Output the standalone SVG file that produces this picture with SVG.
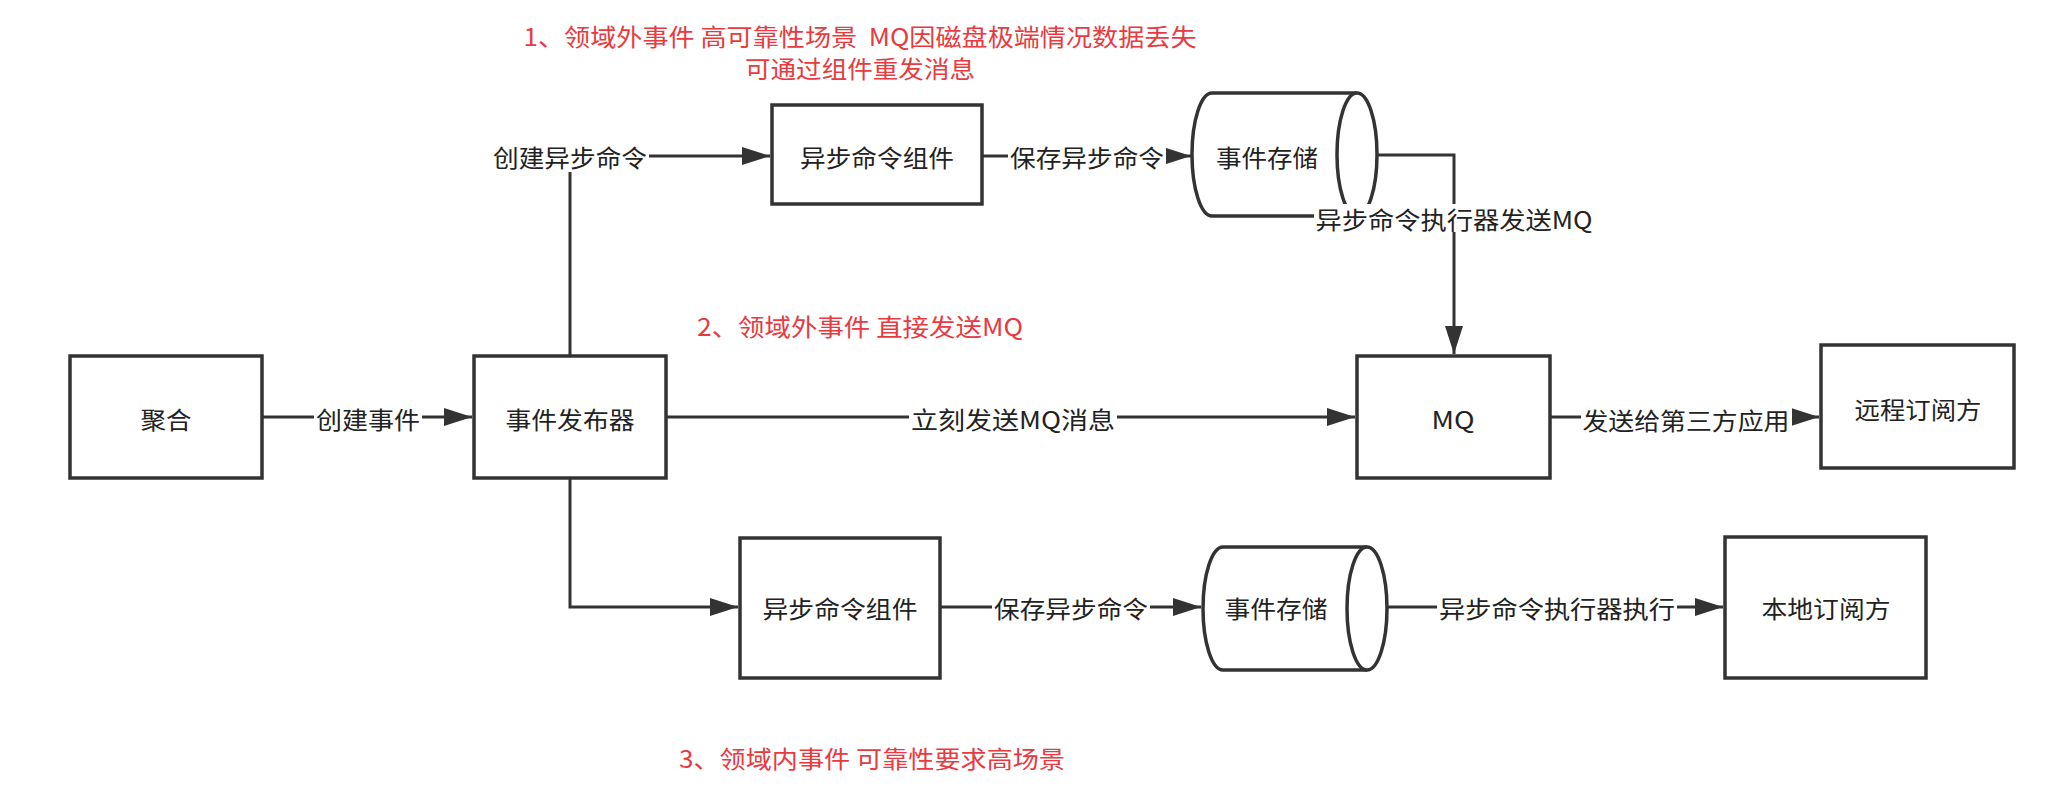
<svg xmlns="http://www.w3.org/2000/svg" width="2050" height="802" viewBox="0 0 2050 802">
  <style>
    .box { fill: #ffffff; stroke: #333333; stroke-width: 3.5; }
    .edge { fill: none; stroke: #333333; stroke-width: 3; }
    .lbl-bg { fill: #ffffff; }
    .txt { font-family: "Noto Sans CJK SC", "Liberation Sans", sans-serif; font-size: 24px; fill: #222222; text-anchor: middle; dominant-baseline: central; }
    .note { font-family: "Noto Sans CJK SC", "Liberation Sans", sans-serif; font-size: 24px; fill: #e83a3f; text-anchor: middle; dominant-baseline: central; }
  </style>
  <defs>
    <marker id="arrow" markerUnits="userSpaceOnUse" markerWidth="28" markerHeight="18" refX="28" refY="9" orient="auto">
      <path d="M0,0 L28,9 L0,18 Z" fill="#333333"/>
    </marker>
  </defs>

  <rect width="2050" height="802" fill="#ffffff"/>

  <!-- nodes -->
  <g id="aggregate">
    <rect class="box" x="70" y="356" width="192" height="122"/>
    <text class="txt" x="166" y="418" textLength="51" lengthAdjust="spacingAndGlyphs">聚合</text>
  </g>

  <g id="publisher">
    <rect class="box" x="474" y="356" width="192" height="122"/>
    <text class="txt" x="570" y="418" textLength="129" lengthAdjust="spacingAndGlyphs">事件发布器</text>
  </g>

  <g id="async-component-upper">
    <rect class="box" x="772" y="105" width="210" height="99"/>
    <text class="txt" x="877" y="156" textLength="154" lengthAdjust="spacingAndGlyphs">异步命令组件</text>
  </g>

  <g id="event-store-upper">
    <path class="box" d="M1212,93 H1357 A20,61.5 0 0 1 1357,216 H1212 A20,61.5 0 0 1 1212,93 Z"/>
    <path class="box" fill="none" d="M1357,93 A20,61.5 0 0 0 1357,216"/>
    <text class="txt" x="1267" y="156" textLength="102" lengthAdjust="spacingAndGlyphs">事件存储</text>
  </g>

  <g id="mq">
    <rect class="box" x="1357" y="356" width="193" height="122"/>
    <text class="txt" x="1453" y="418" textLength="43" lengthAdjust="spacingAndGlyphs">MQ</text>
  </g>

  <g id="remote-subscriber">
    <rect class="box" x="1821" y="345" width="193" height="123"/>
    <text class="txt" x="1918" y="408" textLength="127" lengthAdjust="spacingAndGlyphs">远程订阅方</text>
  </g>

  <g id="async-component-lower">
    <rect class="box" x="740" y="538" width="200" height="140"/>
    <text class="txt" x="840" y="607" textLength="155" lengthAdjust="spacingAndGlyphs">异步命令组件</text>
  </g>

  <g id="event-store-lower">
    <path class="box" d="M1223,547 H1367 A20,61.5 0 0 1 1367,670 H1223 A20,61.5 0 0 1 1223,547 Z"/>
    <path class="box" fill="none" d="M1367,547 A20,61.5 0 0 0 1367,670"/>
    <text class="txt" x="1276" y="607" textLength="103" lengthAdjust="spacingAndGlyphs">事件存储</text>
  </g>

  <g id="local-subscriber">
    <rect class="box" x="1725" y="537" width="201" height="141"/>
    <text class="txt" x="1826" y="607" textLength="129" lengthAdjust="spacingAndGlyphs">本地订阅方</text>
  </g>

  <!-- connectors, drawn above the nodes so their labels sit on top -->
  <g id="connectors">
    <!-- aggregate -> publisher -->
    <path class="edge" d="M262,417 H472" marker-end="url(#arrow)"/>
    <rect class="lbl-bg" x="314" y="404" width="108" height="28"/>
    <text class="txt" x="368" y="418" textLength="104" lengthAdjust="spacingAndGlyphs">创建事件</text>

    <!-- publisher -> upper async component -->
    <path class="edge" d="M570,356 V156 H770" marker-end="url(#arrow)"/>
    <rect class="lbl-bg" x="491" y="140" width="158" height="32"/>
    <text class="txt" x="570" y="156" textLength="154" lengthAdjust="spacingAndGlyphs">创建异步命令</text>

    <!-- upper async component -> upper store -->
    <path class="edge" d="M982,156 H1191" marker-end="url(#arrow)"/>
    <rect class="lbl-bg" x="1008" y="142" width="158" height="28"/>
    <text class="txt" x="1087" y="156" textLength="154" lengthAdjust="spacingAndGlyphs">保存异步命令</text>

    <!-- upper store -> MQ -->
    <path class="edge" d="M1377,155 H1454 V354" marker-end="url(#arrow)"/>
    <rect class="lbl-bg" x="1314" y="204" width="281" height="28"/>
    <text class="txt" x="1454" y="218" textLength="277" lengthAdjust="spacingAndGlyphs">异步命令执行器发送MQ</text>

    <!-- publisher -> MQ -->
    <path class="edge" d="M666,417 H1355" marker-end="url(#arrow)"/>
    <rect class="lbl-bg" x="909" y="404" width="208" height="28"/>
    <text class="txt" x="1013" y="418" textLength="204" lengthAdjust="spacingAndGlyphs">立刻发送MQ消息</text>

    <!-- MQ -> remote subscriber -->
    <path class="edge" d="M1550,417 H1819" marker-end="url(#arrow)"/>
    <rect class="lbl-bg" x="1581" y="405" width="211" height="28"/>
    <text class="txt" x="1686" y="419" textLength="207" lengthAdjust="spacingAndGlyphs">发送给第三方应用</text>

    <!-- publisher -> lower async component -->
    <path class="edge" d="M570,478 V607 H738" marker-end="url(#arrow)"/>

    <!-- lower async component -> lower store -->
    <path class="edge" d="M940,607 H1201" marker-end="url(#arrow)"/>
    <rect class="lbl-bg" x="992" y="593" width="158" height="28"/>
    <text class="txt" x="1071" y="607" textLength="154" lengthAdjust="spacingAndGlyphs">保存异步命令</text>

    <!-- lower store -> local subscriber -->
    <path class="edge" d="M1387,607 H1723" marker-end="url(#arrow)"/>
    <rect class="lbl-bg" x="1437" y="593" width="240" height="28"/>
    <text class="txt" x="1557" y="607" textLength="236" lengthAdjust="spacingAndGlyphs">异步命令执行器执行</text>
  </g>

  <!-- scenario notes -->
  <g id="notes">
    <text class="note" x="860" y="35" xml:space="preserve" textLength="673" lengthAdjust="spacingAndGlyphs">1、领域外事件 高可靠性场景  MQ因磁盘极端情况数据丢失</text>
    <text class="note" x="860" y="67" textLength="230" lengthAdjust="spacingAndGlyphs">可通过组件重发消息</text>
    <text class="note" x="860" y="325" textLength="326" lengthAdjust="spacingAndGlyphs">2、领域外事件 直接发送MQ</text>
    <text class="note" x="872" y="757" textLength="386" lengthAdjust="spacingAndGlyphs">3、领域内事件 可靠性要求高场景</text>
  </g>
</svg>
